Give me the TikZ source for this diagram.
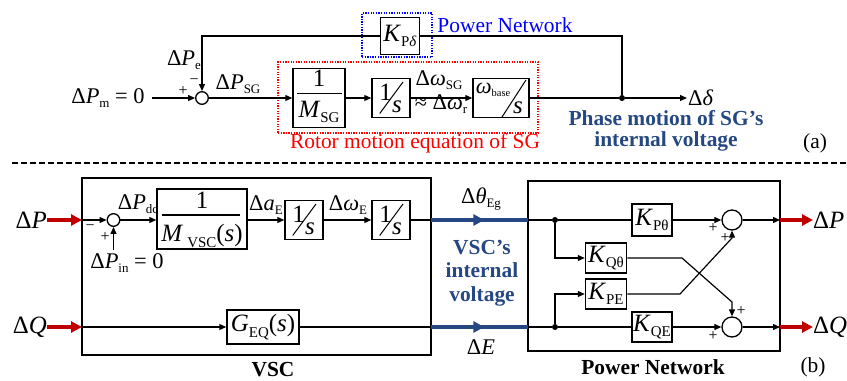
\documentclass[tikz,border=0pt]{standalone}
\usepackage{fontspec}
\setmainfont{Liberation Serif}
\usetikzlibrary{arrows.meta,decorations.markings,calc}
\definecolor{navy}{RGB}{38,72,130}
\definecolor{dred}{RGB}{192,0,0}
\newcommand\sbs[1]{\raisebox{-0.45ex}{\fontsize{13}{13}\selectfont #1}}
\newcommand\sbb[1]{\raisebox{-0.45ex}{\fontsize{15}{15}\selectfont #1}}
\newcommand\fs{\fontsize{21.5}{23}\selectfont}
\newcommand\fm{\fontsize{22.5}{24}\selectfont}
\newcommand\fb{\fontsize{25}{27}\selectfont}
\newcommand\sgn{\fontsize{16}{16}\selectfont}
\newcommand\iv[1]{\textit{#1}}
\tikzset{
  ln/.style={line width=1.2bp},
  arr/.style={ln, -{Triangle[length=7bp,width=6bp]}},
  blk/.style={draw, line width=1.5bp, inner sep=0pt, fill=white, font=\fb},
  sumc/.style={circle, draw, line width=1.3bp, inner sep=0pt},
  dotj/.style={circle, fill, inner sep=0pt, minimum size=6bp},
  redarr/.style={line width=3.5bp, draw=dred, -{Triangle[length=11bp,width=11bp,fill=dred]}},
  bl/.style={line width=3.5bp, draw=navy, postaction={decorate},
    decoration={markings, mark=at position 0.55 with {\arrow[navy]{Triangle[length=11bp,width=11bp]}}}},
  dotbox/.style={line width=1.1bp, dash pattern=on 1.3bp off 1.3bp},
  bfont/.style={font=\fs\bfseries},
  mlab/.style={font=\fm},
  blab/.style={font=\fb},
}
\newcommand\intbox[3]{%
  \node[blk, minimum width=38bp, minimum height=39bp] (#1) at (#2,#3) {};
  \node[blab] (#1a) at ($(#1.center)+(-5.5,-6)$) {1};
  \node[blab] (#1b) at ($(#1.center)+(6,9)$) {\iv{s}};
  \draw[line width=1bp] ($(#1.center)+(-11.3,15.5)$) -- ($(#1.center)+(12,-16)$);}
\begin{document}
\begin{tikzpicture}[x=1bp,y=-1bp, every node/.style={font=\fs, inner sep=0pt}]
\useasboundingbox (0,0) rectangle (847,380);
% ---------------- (a) ----------------
\node[draw=blue, dotbox, minimum width=70bp, minimum height=44bp] (pnbox) at (397,35) {};
\node[draw=red, dotbox, minimum width=260bp, minimum height=71bp] (rmbox) at (408,97.5) {};
\node[mlab] (pm) at (108,98) {Δ\iv{P}\sbs{m} = 0};
\coordinate (pmin) at (152,98);
\node[sumc, minimum size=12.6bp] (s1) at (202,98) {};
\node[blk, minimum width=52bp, minimum height=59bp] (msg) at (319,98) {};
\node[blab] (msg1) at (319,78) {1};
\node[blab] (msg2) at (319,112) {\iv{M}\sbb{SG}};
\draw[ln] ($(msg.center)+(-22,-4.5)$) -- ($(msg.center)+(23,-4.5)$);
\intbox{i1}{391}{98}
\node[blk, minimum width=56bp, minimum height=39bp] (wb) at (501,98) {};
\node[mlab] (wb1) at (493,90) {\iv{ω}\raisebox{-0.3ex}{\fontsize{10.5}{10.5}\selectfont base}};
\node[blab] (wb2) at (518,108) {\iv{s}};
\draw[line width=1bp] ($(wb.center)+(1,19)$) -- ($(wb.center)+(25,-18)$);
\node[dotj] (j1) at (622,98) {};
\coordinate (dd) at (687,98);
\node[anchor=west, mlab] (ddl) at (688,98) {Δ\iv{δ}};
\node[blk, minimum width=39bp, minimum height=37bp] (kpd) at (400,36) {\iv{K}\sbb{P\iv{δ}}};
\draw[arr] (pmin) -- (s1);
\draw[arr] (s1) -- (msg);
\draw[arr] (msg) -- (i1);
\draw[arr] (i1) -- (wb);
\draw[ln] (wb) -- (j1);
\draw[arr] (j1) -- (dd);
\draw[ln] (j1) |- (kpd);
\draw[arr] (kpd) -| (s1);
\node[font=\sgn] (pl1) at (183,91) {+};
\node[font=\sgn] (mi1) at (194,82) {−};
\node[mlab] (pel) at (184,60) {Δ\iv{P}\sbs{e}};
\node[mlab] (psgl) at (238,84) {Δ\iv{P}\sbs{SG}};
\node[mlab] (wsgl) at (439,80) {Δ\iv{ω}\sbs{SG}};
\node[mlab] (wrl) at (441,104) {≈ Δ\iv{ω}\sbs{r}};
\node[text=blue] (pnl) at (505,25) {Power Network};
\node[text=red] (rml) at (415,143) {Rotor motion equation of SG};
\node[text=navy, font=\fontsize{21.5}{20.5}\selectfont\bfseries, align=center] (phl) at (666,131) {Phase motion of SG’s\\internal voltage};
\node (la) at (815,143) {(a)};
% separator
\coordinate (sepL) at (12,163);
\coordinate (sepR) at (847,163);
\draw[line width=2.5bp, dash pattern=on 6bp off 3bp] (sepL) -- (sepR);
% ---------------- (b) ----------------
\node[draw, line width=2bp, minimum width=349bp, minimum height=177bp] (vsc) at (256.5,266.5) {};
\node[draw, line width=2bp, minimum width=252bp, minimum height=170bp] (pn) at (654,266) {};
\coordinate (vP) at (82,220);
\coordinate (vQ) at (82,327);
\coordinate (vPo) at (431,220);
\coordinate (vQo) at (431,327);
\coordinate (pnP) at (528,220);
\coordinate (pnQ) at (528,327);
\coordinate (pnPo) at (780,220);
\coordinate (pnQo) at (780,327);
\node[anchor=east, blab] (dp) at (47,220) {Δ\iv{P}};
\node[anchor=east, blab] (dq) at (47,327) {Δ\iv{Q}};
\draw[redarr] (dp) -- (vP);
\draw[redarr] (dq) -- (vQ);
\node[sumc, minimum size=12.6bp] (s2) at (113.5,220) {};
\coordinate (pin) at (113.5,250);
\draw[arr] (vP) -- (s2);
\draw[arr] (pin) -- (s2);
\node[font=\sgn] (mi2) at (90,228) {−};
\node[font=\sgn] (pl2) at (105,237) {+};
\node[mlab] (pinl) at (127,263) {Δ\iv{P}\sbs{in} = 0};
\node[mlab] (pdcl) at (138,204) {Δ\iv{P}\sbs{dc}};
\node[blk, minimum width=90bp, minimum height=60bp] (mv) at (202,219) {};
\node[blab] (mv1) at (202,200) {1};
\node[blab] (mv2) at (202,236) {\iv{M}\,\sbb{VSC}(\iv{s})};
\draw[ln] ($(mv.center)+(-40,-4)$) -- ($(mv.center)+(38,-4)$);
\draw[arr] (s2) -- (mv.west |- s2);
\intbox{i2}{304}{220}
\intbox{i3}{391}{220}
\draw[arr] (mv.east |- i2) -- (i2);
\draw[arr] (i2) -- (i3);
\draw[ln] (i3) -- (vPo);
\node[mlab] (dael) at (266,205) {Δ\iv{a}\sbs{E}};
\node[mlab] (dwel) at (348,205) {Δ\iv{ω}\sbs{E}};
\draw[bl] (vPo) -- (pnP);
\node[blk, minimum width=72bp, minimum height=34bp] (geq) at (263,327) {\iv{G}\sbb{EQ}(\iv{s})};
\draw[arr] (vQ) -- (geq);
\draw[ln] (geq) -- (vQo);
\draw[bl] (vQo) -- (pnQ);
\node[mlab] (dthl) at (481,199) {Δ\iv{θ}\sbs{Eg}};
\node[mlab] (del) at (481,347) {Δ\iv{E}};
\node[text=navy, font=\fontsize{21.5}{23.5}\selectfont\bfseries, align=center] (vscv) at (482,273) {VSC’s\\internal\\voltage};
\node[bfont] (vscl) at (273,370) {VSC};
\node[bfont] (pnl2) at (653,367) {Power Network};
\node (lb) at (813,367) {(b)};
% power network internals
\node[dotj] (d1) at (555,220) {};
\node[dotj] (d2) at (555,327) {};
\node[blk, minimum width=40bp, minimum height=32bp] (kpt) at (652,220) {\iv{K}\sbb{Pθ}};
\node[blk, minimum width=41bp, minimum height=30bp] (kqt) at (606,258) {\iv{K}\sbb{Qθ}};
\node[blk, minimum width=41bp, minimum height=30bp] (kpe) at (606,294) {\iv{K}\sbb{PE}};
\node[blk, minimum width=40bp, minimum height=30bp] (kqe) at (652,327) {\iv{K}\sbb{QE}};
\node[sumc, minimum size=20bp] (c1) at (732,220) {};
\node[sumc, minimum size=20bp] (c2) at (732,327) {};
\node[anchor=west, blab] (dpo) at (813,220) {Δ\iv{P}};
\node[anchor=west, blab] (dqo) at (813,327) {Δ\iv{Q}};
\draw[ln] (pnP) -- (d1) -- (kpt);
\draw[ln] (pnQ) -- (d2) -- (kqe);
\draw[arr] (kpt) -- (c1);
\draw[arr] (kqe) -- (c2);
\draw[arr] (c1) -- (pnPo);
\draw[arr] (c2) -- (pnQo);
\draw[redarr] (pnPo) -- (dpo.west);
\draw[redarr] (pnQo) -- (dqo.west);
\draw[arr] (d1) |- (kqt);
\draw[arr] (d2) |- (kpe);
\coordinate (x1) at (682,258);
\coordinate (x2) at (732,302);
\coordinate (x3) at (680,294);
\coordinate (x4) at (732,238);
\draw[arr] (kqt.east) -- (x1) -- (x2) -- (c2.north);
\draw[arr] (kpe.east) -- (x3) -- (x4) -- (c1.south);
\node[font=\sgn] (pa) at (713,228) {+};
\node[font=\sgn] (pb) at (725,238) {+};
\node[font=\sgn] (pc) at (741,311) {+};
\node[font=\sgn] (pd) at (713,336) {+};
\end{tikzpicture}
\end{document}
